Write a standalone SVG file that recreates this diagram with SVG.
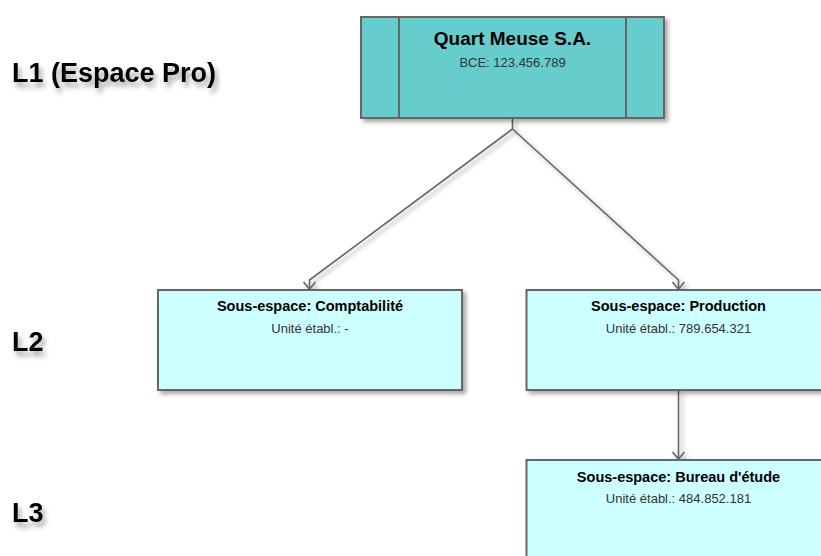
<svg xmlns="http://www.w3.org/2000/svg" width="821" height="556" viewBox="0 0 821 556">
<style>
  .lvl { font-family: "Liberation Sans", Arial, sans-serif; font-weight: bold; font-size: 27px; fill: #000; }
  .box { stroke: #666; stroke-width: 2; }
  .l1box { fill: #66CCCC; }
  .l2box { fill: #CCFFFF; }
  .t1 { font-family: "Liberation Sans", Arial, sans-serif; font-weight: bold; font-size: 19px; fill: #000; text-anchor: middle; }
  .s1 { font-family: "Liberation Sans", Arial, sans-serif; font-size: 13px; fill: #333; text-anchor: middle; }
  .t2 { font-family: "Liberation Sans", Arial, sans-serif; font-weight: bold; font-size: 14.5px; fill: #000; text-anchor: middle; }
  .s2 { font-family: "Liberation Sans", Arial, sans-serif; font-size: 13px; fill: #333; text-anchor: middle; }
  .conn { fill: none; stroke: #666; stroke-width: 1.6; }
</style>
<defs>
  <filter id="shadow" x="-10%" y="-10%" width="130%" height="140%">
    <feDropShadow dx="3" dy="3" stdDeviation="2" flood-color="#000" flood-opacity="0.35"/>
  </filter>
  <filter id="tshadow" x="-10%" y="-20%" width="130%" height="160%">
    <feDropShadow dx="3" dy="5" stdDeviation="2.5" flood-color="#000" flood-opacity="0.35"/>
  </filter>
  <marker id="arrow" viewBox="0 0 10 14" refX="8" refY="7" markerWidth="10" markerHeight="14" markerUnits="userSpaceOnUse" orient="auto">
    <path d="M1,1 L8,7 L1,13" fill="none" stroke="#666" stroke-width="1.6"/>
  </marker>
</defs>

<g id="labels" filter="url(#tshadow)">
  <text class="lvl" x="12" y="82">L1 (Espace Pro)</text>
  <text class="lvl" x="12" y="351">L2</text>
  <text class="lvl" x="12" y="522">L3</text>
</g>

<g id="connectors" filter="url(#shadow)">
  <path class="conn" d="M512.5,118 L512.5,129 L309.5,280 L309.5,289" marker-end="url(#arrow)"/>
  <path class="conn" d="M512.5,129 L678.5,280 L678.5,289" marker-end="url(#arrow)"/>
  <path class="conn" d="M678.5,390 L678.5,459" marker-end="url(#arrow)"/>
</g>

<g id="node-quart-meuse">
  <rect class="box l1box" x="361" y="17" width="303" height="101" filter="url(#shadow)"/>
  <line class="box" x1="399" y1="17" x2="399" y2="118"/>
  <line class="box" x1="626" y1="17" x2="626" y2="118"/>
  <text class="t1" x="512.5" y="45">Quart Meuse S.A.</text>
  <text class="s1" x="512.5" y="67">BCE: 123.456.789</text>
</g>

<g id="node-comptabilite">
  <rect class="box l2box" x="158" y="290" width="304" height="100" filter="url(#shadow)"/>
  <text class="t2" x="310" y="311">Sous-espace: Comptabilité</text>
  <text class="s2" x="310" y="333">Unité établ.: -</text>
</g>

<g id="node-production">
  <rect class="box l2box" x="526.5" y="290" width="304" height="100" filter="url(#shadow)"/>
  <text class="t2" x="678.5" y="311">Sous-espace: Production</text>
  <text class="s2" x="678.5" y="333">Unité établ.: 789.654.321</text>
</g>

<g id="node-bureau-etude">
  <rect class="box l2box" x="526.5" y="460" width="304" height="100" filter="url(#shadow)"/>
  <text class="t2" x="678.5" y="482">Sous-espace: Bureau d'étude</text>
  <text class="s2" x="678.5" y="503">Unité établ.: 484.852.181</text>
</g>
</svg>
